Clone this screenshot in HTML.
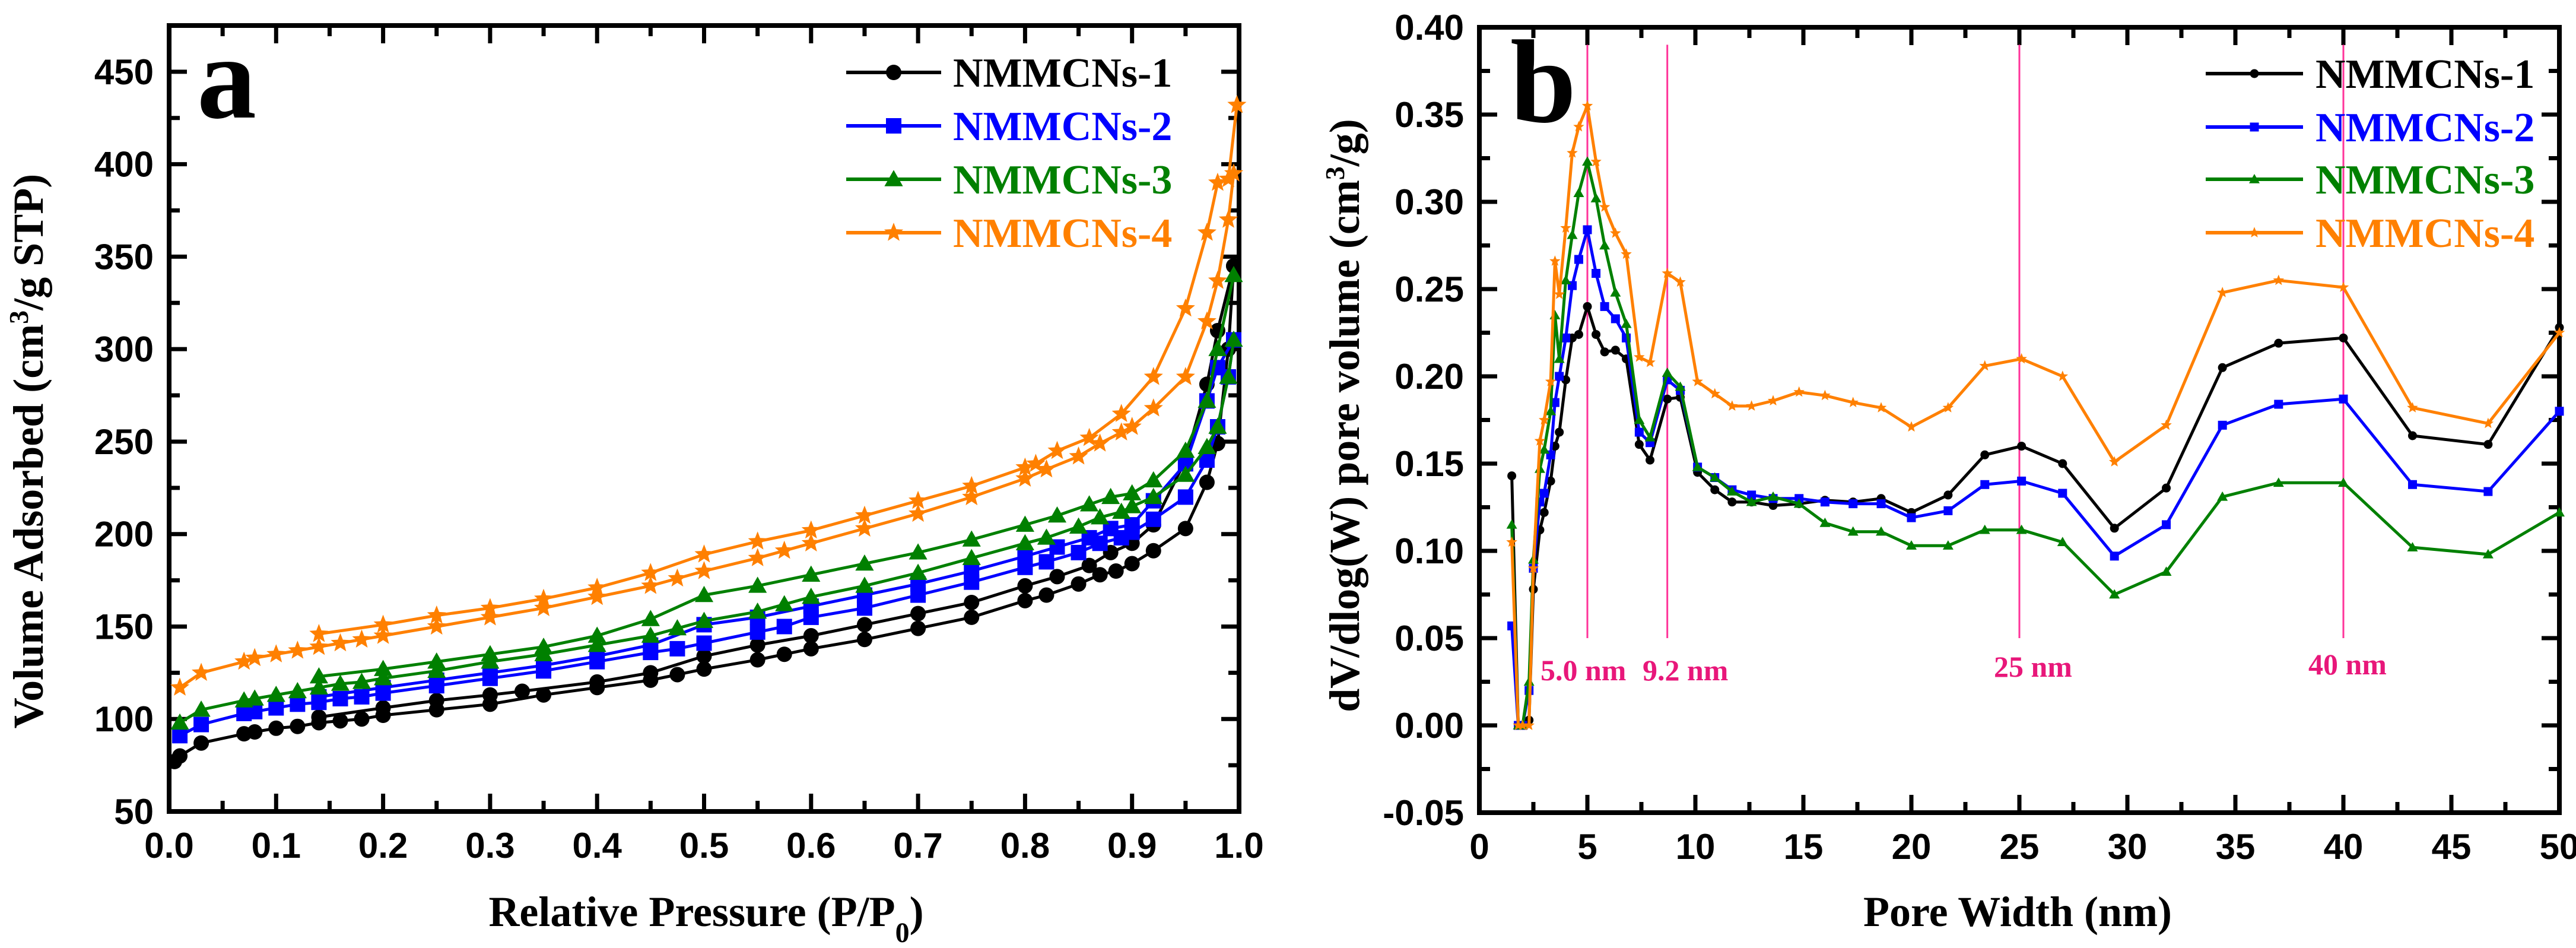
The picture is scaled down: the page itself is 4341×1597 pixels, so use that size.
<!DOCTYPE html>
<html><head><meta charset="utf-8">
<style>
html,body{margin:0;padding:0;background:#fff;}
svg{display:block;}
.tick{font-family:"Liberation Sans",sans-serif;font-weight:bold;font-size:60px;}
.title{font-family:"Liberation Serif",serif;font-weight:bold;font-size:72px;}
.leg{font-family:"Liberation Serif",serif;font-weight:bold;font-size:70px;}
</style></head>
<body>
<svg id="fig" width="4341" height="1597" viewBox="0 0 4341 1597" xmlns="http://www.w3.org/2000/svg">
</svg>
<script>
// ---------- Chart A data ----------
const seriesNames = ["NMMCNs-1","NMMCNs-2","NMMCNs-3","NMMCNs-4"];
const seriesColors = ["#000000","#0000ff","#008000","#ff8000"];
const aXTicks = [0.0,0.1,0.2,0.3,0.4,0.5,0.6,0.7,0.8,0.9,1.0];
const aYTicks = [50,100,150,200,250,300,350,400,450];
const aAdsP1 = [0.005,0.01,0.03,0.07,0.08,0.1,0.12,0.14,0.16,0.18,0.2,0.25,0.3,0.35,0.4,0.45,0.475,0.5,0.55,0.575,0.6,0.65,0.7,0.75,0.8,0.82,0.85,0.87,0.885,0.9,0.92,0.95,0.97,0.98,0.99,0.995];
const aAdsV1 = [77,80,87,92,93,95,96,98,99,100,102,105,108,113,117,121,124,127,132,135,138,143,149,155,164,167,173,178,180,184,191,203,228,249,300,345];
const aDesP1 = [0.995,0.98,0.97,0.95,0.92,0.9,0.88,0.86,0.83,0.8,0.75,0.7,0.65,0.6,0.55,0.5,0.45,0.4,0.33,0.3,0.25,0.2,0.14];
const aDesV1 = [345,310,281,240,205,195,190,183,177,172,163,157,151,145,140,134,125,120,115,113,110,106,101];
const aAdsP = [0.01,0.03,0.07,0.08,0.1,0.12,0.14,0.16,0.18,0.2,0.25,0.3,0.35,0.4,0.45,0.475,0.5,0.55,0.575,0.6,0.65,0.7,0.75,0.8,0.82,0.85,0.87,0.89,0.9,0.92,0.95,0.97,0.98,0.99,0.995];
const aAdsV2 = [91,97,103,104,106,108,109,111,112,114,118,122,126,131,136,138,141,147,150,155,160,167,174,182,185,190,195,198,201,208,220,240,258,285,305];
const aAdsV3 = [98,105,110,111,113,115,117,119,120,122,126,131,135,140,145,149,153,158,162,166,172,179,187,195,198,204,209,212,215,220,232,247,258,285,305];
const aAdsV4 = [117,125,131,133,135,137,139,141,143,145,150,155,160,166,172,176,180,187,191,195,203,211,220,230,235,242,249,255,258,268,285,315,337,370,395];
const aDesP = [0.995,0.98,0.97,0.95,0.92,0.9,0.88,0.86,0.83,0.8,0.75,0.7,0.65,0.6,0.55,0.5,0.45,0.4,0.35,0.3,0.25,0.2,0.14];
const aDesV2 = [305,290,272,238,218,205,203,198,193,188,180,173,167,161,155,151,140,134,129,125,121,117,112];
const aDesV3 = [340,300,272,245,229,222,220,216,210,205,197,190,184,178,172,167,154,145,139,135,131,127,123];
const aDesP4 = [0.998,0.99,0.98,0.97,0.95,0.92,0.89,0.86,0.83,0.81,0.8,0.75,0.7,0.65,0.6,0.55,0.5,0.45,0.4,0.35,0.3,0.25,0.2,0.14];
const aDesV4 = [432,392,390,363,322,285,265,252,245,238,236,226,218,210,202,196,189,179,171,165,160,156,151,146];

// ---------- Chart B data ----------
const bXTicks = [0,5,10,15,20,25,30,35,40,45,50];
const bYTicks = [-0.05,0.00,0.05,0.10,0.15,0.20,0.25,0.30,0.35,0.40];
const bX = [1.5,1.8,2.0,2.3,2.5,2.8,3.0,3.3,3.5,3.7,4.0,4.3,4.6,5.0,5.4,5.8,6.3,6.8,7.4,7.9,8.7,9.3,10.1,10.9,11.7,12.6,13.6,14.8,16.0,17.3,18.6,20.0,21.7,23.4,25.1,27.0,29.4,31.8,34.4,37.0,40.0,43.2,46.7,50.0];
const bY1 = [0.143,0.0,0.0,0.003,0.078,0.112,0.122,0.140,0.160,0.168,0.198,0.222,0.224,0.240,0.224,0.214,0.215,0.210,0.161,0.152,0.187,0.188,0.145,0.135,0.128,0.128,0.126,0.127,0.129,0.128,0.130,0.122,0.132,0.155,0.160,0.150,0.113,0.136,0.205,0.219,0.222,0.166,0.161,0.228];
const bY2 = [0.057,0.0,0.0,0.020,0.090,0.128,0.133,0.155,0.185,0.200,0.222,0.252,0.267,0.284,0.259,0.240,0.233,0.222,0.168,0.162,0.198,0.192,0.148,0.142,0.135,0.132,0.130,0.130,0.128,0.127,0.127,0.119,0.123,0.138,0.140,0.133,0.097,0.115,0.172,0.184,0.187,0.138,0.134,0.180];
const bY3 = [0.115,0.0,0.0,0.025,0.095,0.147,0.158,0.180,0.235,0.210,0.255,0.281,0.305,0.323,0.302,0.275,0.248,0.230,0.175,0.165,0.202,0.194,0.148,0.142,0.134,0.128,0.131,0.127,0.116,0.111,0.111,0.103,0.103,0.112,0.112,0.105,0.075,0.088,0.131,0.139,0.139,0.102,0.098,0.122];
const bY4 = [0.105,0.0,0.0,0.0,0.090,0.163,0.175,0.197,0.266,0.247,0.285,0.328,0.343,0.355,0.323,0.297,0.282,0.270,0.211,0.208,0.259,0.254,0.197,0.190,0.183,0.183,0.186,0.191,0.189,0.185,0.182,0.171,0.182,0.206,0.210,0.200,0.151,0.172,0.248,0.255,0.251,0.182,0.173,0.225];
const bRefLines = [5.0,8.7,25,40];
const bRefLabels = ["5.0 nm","9.2 nm","25 nm","40 nm"];

const NS="http://www.w3.org/2000/svg";
const svg=document.getElementById('fig');
function mk(tag,attrs,parent){const e=document.createElementNS(NS,tag);for(const k in attrs)e.setAttribute(k,attrs[k]);(parent||svg).appendChild(e);return e;}

// Axis A geometry
const A={l:285,r:2088,t:43,b:1367,x0:0,x1:1,y0:50,y1:475};
const B={l:2493,r:4313,t:46,b:1369,x0:0,x1:50,y0:-0.05,y1:0.40};
function sx(ax,v){return ax.l+(v-ax.x0)/(ax.x1-ax.x0)*(ax.r-ax.l);}
function sy(ax,v){return ax.b-(v-ax.y0)/(ax.y1-ax.y0)*(ax.b-ax.t);}

function marker(g,shape,x,y,s,color){
  let e;
  if(shape==='circle'){e=mk('circle',{cx:x,cy:y,r:s/2,fill:color},g);}
  else if(shape==='square'){e=mk('rect',{x:x-s/2,y:y-s/2,width:s,height:s,fill:color},g);}
  else if(shape==='tri'){e=mk('polygon',{points:`${x},${y-s*0.6} ${x-s*0.6},${y+s*0.45} ${x+s*0.6},${y+s*0.45}`,fill:color},g);}
  else {let p=[];for(let i=0;i<10;i++){const rr=i%2?s*0.28:s*0.65;const a=-Math.PI/2+i*Math.PI/5;p.push((x+rr*Math.cos(a)).toFixed(1)+','+(y+rr*Math.sin(a)).toFixed(1));}
    e=mk('polygon',{points:p.join(' '),fill:color},g);}
  
  
}
const shapes=['circle','square','tri','star'];

function drawSeries(ax,xs,ys,color,shape,lw,ms,name){
  const g=mk('g',{});
  
  
  const pts=xs.map((x,i)=>sx(ax,x).toFixed(1)+','+sy(ax,ys[i]).toFixed(1)).join(' ');
  const pl=mk('polyline',{points:pts,fill:'none',stroke:color,'stroke-width':lw,'stroke-linejoin':'round'},g);
  
  
  xs.forEach((x,i)=>marker(g,shape,sx(ax,x),sy(ax,ys[i]),ms,color));
}

function drawAxes(ax,xt,yt,xminor,yminor,xfmt,yfmt,prefix){
  const g=mk('g',{});
  
  
  // ticks
  xt.forEach(v=>{const x=sx(ax,v);
    mk('line',{x1:x,y1:ax.b,x2:x,y2:ax.b-30,stroke:'#000','stroke-width':7},g);
    mk('line',{x1:x,y1:ax.t,x2:x,y2:ax.t+30,stroke:'#000','stroke-width':7},g);
    const t=mk('text',{x:x,y:ax.b+78,'text-anchor':'middle',class:'tick'},g);t.textContent=xfmt(v);
    
    
  });
  for(let i=0;i<xt.length-1;i++){const x=sx(ax,(xt[i]+xt[i+1])/2);
    mk('line',{x1:x,y1:ax.b,x2:x,y2:ax.b-18,stroke:'#000','stroke-width':7},g);
    mk('line',{x1:x,y1:ax.t,x2:x,y2:ax.t+18,stroke:'#000','stroke-width':7},g);}
  yt.forEach(v=>{const y=sy(ax,v);
    mk('line',{x1:ax.l,y1:y,x2:ax.l+30,y2:y,stroke:'#000','stroke-width':7},g);
    mk('line',{x1:ax.r,y1:y,x2:ax.r-30,y2:y,stroke:'#000','stroke-width':7},g);
    const t=mk('text',{x:ax.l-26,y:y+21,'text-anchor':'end',class:'tick'},g);t.textContent=yfmt(v);
    
    
  });
  for(let i=0;i<yt.length;i++){const v=yt[i]+(yt[1]-yt[0])/2;if(v>ax.y1)continue;const y=sy(ax,v);
    mk('line',{x1:ax.l,y1:y,x2:ax.l+18,y2:y,stroke:'#000','stroke-width':7},g);
    mk('line',{x1:ax.r,y1:y,x2:ax.r-18,y2:y,stroke:'#000','stroke-width':7},g);}
  mk('rect',{x:ax.l,y:ax.t,width:ax.r-ax.l,height:ax.b-ax.t,fill:'none',stroke:'#000','stroke-width':8},g);
}

function legend(x0,x1,tx,ys,sizes,lw){
  seriesNames.forEach((n,i)=>{
    const g=mk('g',{});
    
    
    mk('line',{x1:x0,y1:ys[i],x2:x1,y2:ys[i],stroke:seriesColors[i],'stroke-width':lw},g);
    marker(g,shapes[i],(x0+x1)/2,ys[i],sizes,seriesColors[i]);
    const t=mk('text',{x:tx,y:ys[i]+24,fill:seriesColors[i],class:'leg'},g);t.textContent=n;
  });
}

// ---- Chart A ----
drawAxes(A,aXTicks,aYTicks,true,true,v=>v.toFixed(1),v=>String(v),'chart-a');
const aSets=[[aAdsP1,aAdsV1,aDesP1,aDesV1],[aAdsP,aAdsV2,aDesP,aDesV2],[aAdsP,aAdsV3,aDesP,aDesV3],[aAdsP,aAdsV4,aDesP4,aDesV4]];
aSets.forEach((s,i)=>{
  drawSeries(A,s[0],s[1],seriesColors[i],shapes[i],5,26,'chart-a-'+seriesNames[i].toLowerCase()+'-adsorption');
  drawSeries(A,s[2],s[3],seriesColors[i],shapes[i],5,26,'chart-a-'+seriesNames[i].toLowerCase()+'-desorption');
});
legend(1426,1586,1606,[122,212,302,392],26,6);
{
 const t=mk('text',{x:332,y:198,style:'font-family:"Liberation Serif",serif;font-weight:bold;font-size:200px;'});t.textContent='a';
 
 const xt=mk('text',{x:1190,y:1560,'text-anchor':'middle',class:'title'});
 xt.innerHTML='Relative Pressure (P/P<tspan baseline-shift="sub" font-size="48">0</tspan>)';
 
 const yt=mk('text',{x:0,y:0,'text-anchor':'middle',class:'title',transform:'translate(72,760) rotate(-90)'});
 yt.innerHTML='Volume Adsorbed (cm<tspan baseline-shift="super" font-size="46">3</tspan>/g STP)';
 
}

// ---- Chart B ----
drawAxes(B,bXTicks,bYTicks,true,true,v=>String(v),v=>v.toFixed(2),'chart-b');
bRefLines.forEach((v,i)=>{
  const l=mk('line',{x1:sx(B,v),y1:sy(B,0.39),x2:sx(B,v),y2:sy(B,0.05),stroke:'#ff3399','stroke-width':3});
  
  
});
const refLabelX=[2596,2768,3360,3890];
const refLabelY=[1128,1128,1122,1118];
bRefLabels.forEach((s,i)=>{
  const t=mk('text',{x:refLabelX[i],y:refLabelY[i]+18,fill:'#e8177a',style:'font-family:"Liberation Serif",serif;font-weight:bold;font-size:50px;'});
  t.textContent=s;
  
  
});
[bY1,bY2,bY3,bY4].forEach((ys,i)=>drawSeries(B,bX,ys,seriesColors[i],shapes[i],5,15,'chart-b-'+seriesNames[i].toLowerCase()));
legend(3717,3881,3902,[124,214,302,392],15,6);
{
 const t=mk('text',{x:2545,y:205,style:'font-family:"Liberation Serif",serif;font-weight:bold;font-size:200px;'});t.textContent='b';
 
 const xt=mk('text',{x:3400,y:1560,'text-anchor':'middle',class:'title'});xt.textContent='Pore Width (nm)';
 
 const yt=mk('text',{x:0,y:0,'text-anchor':'middle',class:'title',transform:'translate(2290,700) rotate(-90)'});
 yt.innerHTML='dV/dlog(W) pore volume (cm<tspan baseline-shift="super" font-size="46">3</tspan>/g)';
 
}
</script>
</body></html>
